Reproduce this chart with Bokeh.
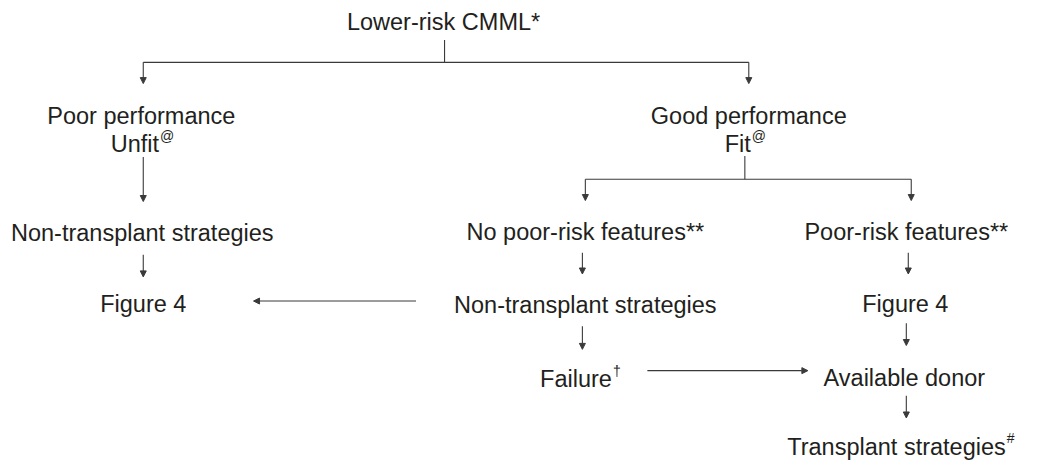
from bokeh.plotting import figure
from bokeh.models import Range1d, Arrow, NormalHead, ColumnDataSource
from bokeh.core.properties import value
from bokeh.embed import file_html
from bokeh.resources import INLINE

# ---- content ----
node_labels = ["Lower-risk CMML*", "Poor performance", "Good performance",
               "Non-transplant strategies", "Figure 4",
               "No poor-risk features**", "Poor-risk features**",
               "Non-transplant strategies", "Figure 4", "Available donor"]
sup_labels = ["Unfit", "Fit", "Failure", "Transplant strategies"]
sup_marks = ["@", "@", "\u2020", "#"]

# ---- layout (reference pixel coordinates) ----
node_x = [450, 143, 760, 144, 145, 594, 920, 594, 919, 918]
node_y = [28, 125, 125, 247, 320, 246, 246, 321, 320, 397]
sup_anchor_x = [161, 762, 621, 1021]
sup_anchor_y = [155, 155, 398, 468]

plain_lines = [((451, 47), (451, 70)), ((145, 70), (760, 70)),
               ((756, 167), (756, 191)), ((594, 191), (925, 191))]
arrows = [((145, 70), (145, 92)), ((760, 70), (760, 92)),
          ((145, 168), (145, 214)), ((145, 269), (145, 292)),
          ((422, 317), (257, 317)),
          ((594, 191), (594, 213)), ((925, 191), (925, 213)),
          ((591, 267), (591, 289)), ((922, 267), (922, 289)),
          ((591, 343), (591, 367)), ((920, 340), (920, 363)),
          ((657, 389), (820, 389)), ((920, 415), (920, 438))]

TEXT = "#231f20"
LINE = "#3a3a3a"
FONT = value("Liberation Sans")
FS = "23.5px"

p = figure(width=1022, height=460, x_range=Range1d(0, 1038), y_range=Range1d(482, 6),
           output_backend="svg", toolbar_location=None, min_border=0)
p.axis.visible = False
p.grid.visible = False
p.outline_line_color = None
p.background_fill_color = "white"
p.border_fill_color = "white"

src = ColumnDataSource(dict(x=node_x, y=node_y, t=node_labels))
p.text(x="x", y="y", text="t", source=src, text_align="center", text_baseline="alphabetic",
       text_font=FONT, text_font_size=FS, text_color=TEXT)

src2 = ColumnDataSource(dict(x=sup_anchor_x, y=sup_anchor_y, t=sup_labels))
p.text(x="x", y="y", text="t", source=src2, text_align="right", text_baseline="alphabetic",
       text_font=FONT, text_font_size=FS, text_color=TEXT)
src3 = ColumnDataSource(dict(x=[v + 1 for v in sup_anchor_x], y=[v - 9 for v in sup_anchor_y], t=sup_marks))
p.text(x="x", y="y", text="t", source=src3, text_align="left", text_baseline="alphabetic",
       text_font=FONT, text_font_size="14px", text_color=TEXT)

p.multi_line(xs=[[a[0], b[0]] for a, b in plain_lines], ys=[[a[1], b[1]] for a, b in plain_lines],
             line_color=LINE, line_width=1.1)

for (a, b) in arrows:
    p.add_layout(Arrow(x_start=a[0], y_start=a[1], x_end=b[0], y_end=b[1],
                       line_color=LINE, line_width=1.1,
                       end=NormalHead(size=6, fill_color=LINE, line_color=LINE, line_width=1)))

open("out.html", "w").write(file_html(p, INLINE))
